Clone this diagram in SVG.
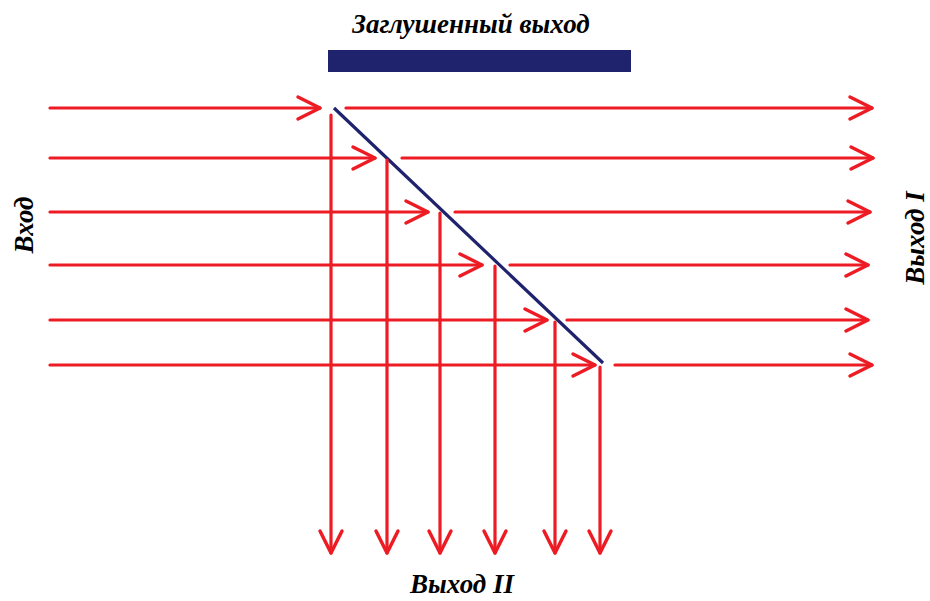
<svg xmlns="http://www.w3.org/2000/svg" width="930" height="601" viewBox="0 0 930 601">
<style>
.ray{stroke:#ed1c24;stroke-width:3.2;fill:none;stroke-linecap:round}
.head{marker-end:url(#ah)}
.lbl{font-family:"Liberation Serif","Times New Roman",serif;font-weight:bold;font-style:italic;font-size:27px;fill:#000}
</style>
<defs>
<marker id="ah" markerUnits="userSpaceOnUse" markerWidth="30" markerHeight="30" viewBox="-25 -15 30 30" refX="0" refY="0" orient="auto" overflow="visible">
<path d="M-22,-11 L0,0 L-22,11" fill="none" stroke="#ed1c24" stroke-width="3.5" stroke-linecap="round" stroke-linejoin="round"/>
</marker>
</defs>
<rect width="930" height="601" fill="#fff"/>
<g id="blocked-output">
<rect x="328" y="50" width="303" height="22" fill="#1f226c"/>
<text class="lbl" x="471" y="33" text-anchor="middle">Заглушенный выход</text>
</g>
<g id="splitter">
<line x1="334" y1="108" x2="603" y2="363" stroke="#1f226c" stroke-width="3.2"/>
</g>
<g id="input"><text class="lbl" transform="translate(33,225) rotate(-90)" text-anchor="middle">Вход</text></g>
<g id="output1"><text class="lbl" transform="translate(924,238) rotate(-90)" text-anchor="middle">Выход I</text></g>
<g id="output2"><text class="lbl" x="462" y="593" text-anchor="middle">Выход II</text></g>
<g id="connectors">
<line class="ray head" x1="50" y1="108" x2="320" y2="108"/>
<line class="ray head" x1="50" y1="158" x2="375" y2="158"/>
<line class="ray head" x1="50" y1="212" x2="428" y2="212"/>
<line class="ray head" x1="50" y1="265" x2="482" y2="265"/>
<line class="ray head" x1="50" y1="320" x2="547" y2="320"/>
<line class="ray head" x1="50" y1="365" x2="595" y2="365"/>
<line class="ray head" x1="346" y1="108" x2="872" y2="108"/>
<line class="ray head" x1="402" y1="158" x2="873" y2="158"/>
<line class="ray head" x1="455" y1="212" x2="870" y2="212"/>
<line class="ray head" x1="510" y1="265" x2="868" y2="265"/>
<line class="ray head" x1="567" y1="320" x2="868" y2="320"/>
<line class="ray head" x1="615" y1="365" x2="872" y2="365"/>
<line class="ray head" x1="331" y1="115" x2="331" y2="553"/>
<line class="ray head" x1="387" y1="160" x2="387" y2="553"/>
<line class="ray head" x1="440" y1="213" x2="440" y2="553"/>
<line class="ray head" x1="495" y1="266" x2="495" y2="553"/>
<line class="ray head" x1="555" y1="322" x2="555" y2="553"/>
<line class="ray head" x1="600" y1="367" x2="600" y2="553"/>
</g>
</svg>
